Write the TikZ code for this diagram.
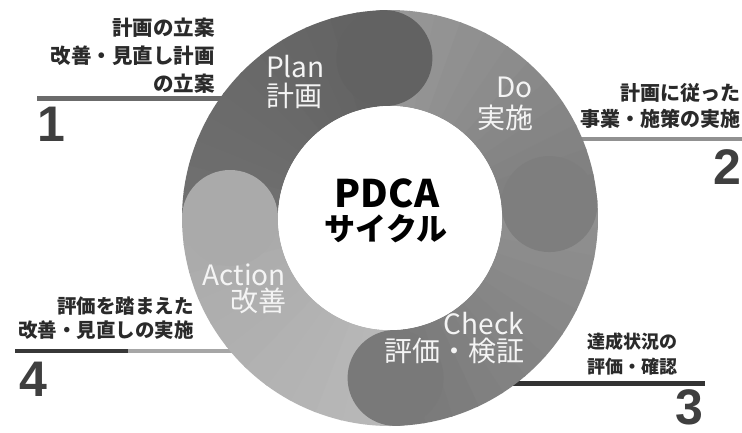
\documentclass[tikz,border=0pt]{standalone}
\usepackage{fontspec}
\setmainfont{Noto Sans CJK JP}
\newfontfamily\numfont{Liberation Sans}
\definecolor{planA}{HTML}{707070}
\definecolor{planB}{HTML}{626262}
\definecolor{doA}{HTML}{979797}
\definecolor{doB}{HTML}{7E7E7E}
\definecolor{chkA}{HTML}{909090}
\definecolor{chkB}{HTML}{797979}
\definecolor{actA}{HTML}{B8B8B8}
\definecolor{actB}{HTML}{AAAAAA}
\definecolor{labtxt}{HTML}{2A2A2A}
\definecolor{ringtxt}{HTML}{F4F4F4}
\newcommand{\ringbody}[4]{%
  \foreach \i in {0,...,11}{%
    \pgfmathsetmacro{\aa}{#1+(#2-#1)*\i/12}%
    \pgfmathsetmacro{\bb}{#1+(#2-#1)*(\i+1)/12+0.5}%
    \pgfmathtruncatemacro{\pp}{100*\i/11}%
    \fill[#4!\pp!#3] (\aa:208) arc[start angle=\aa, end angle=\bb, radius=208]
      -- (\bb:112) arc[start angle=\bb, end angle=\aa, radius=112] -- cycle;
  }%
}
\tikzset{
  lab/.style={inner sep=0pt, text=labtxt, font=\bfseries\fontsize{#1}{#1}\selectfont},
  ringlab/.style={inner sep=0pt, text depth=0pt, text=ringtxt, font=\fontsize{28}{28}\selectfont},
  bignum/.style={inner sep=0pt, text depth=0pt, text=labtxt!90!white, font=\numfont\bfseries\fontsize{50}{50}\selectfont},
  rule/.style={line width=#1}
}
\begin{document}
\begin{tikzpicture}[x=1pt,y=-1pt]
\fill[white] (0,0) rectangle (742,432);
\useasboundingbox (0,0) rectangle (742,432);
% rules
\coordinate (r1a) at (37,98);  \coordinate (r1b) at (270,98);
\coordinate (r2a) at (540,139); \coordinate (r2b) at (742,139);
\coordinate (r3a) at (500,383); \coordinate (r3b) at (705,383);
\coordinate (r4a) at (15,351); \coordinate (r4m) at (128,351); \coordinate (r4b) at (260,351);
\draw[rule=5pt, color=black!58] (r1a) -- (r1b);
\draw[rule=4pt, color=black!43] (r2a) -- (r2b);
\draw[rule=5pt, color=black!80] (r3a) -- (r3b);
\draw[rule=4pt, color=black!35] (r4m) -- (r4b);
\draw[rule=4pt, color=black!78] (r4a) -- (r4m);
% ring
\begin{scope}[shift={(390,218)}]
  \ringbody{180}{268}{planA}{planB}
  \ringbody{268}{355}{doA}{doB}
  \ringbody{355}{448}{chkA}{chkB}
  \ringbody{448}{540}{actA}{actB}
  \fill[planB] (268:160) circle[radius=48];
  \fill[doB] (355:160) circle[radius=48];
  \fill[chkB] (448:160) circle[radius=48];
  \fill[actB] (540:160) circle[radius=48];
  \fill[white] (0,0) circle[radius=112];
\end{scope}
% ring labels
\node[ringlab, anchor=base west] (planE) at (266,77) {Plan};
\node[ringlab, anchor=base west] (planJ) at (266,106) {計画};
\node[ringlab, anchor=base east] (doE) at (533,97) {Do};
\node[ringlab, anchor=base east] (doJ) at (534,128) {実施};
\node[ringlab, anchor=base east] (chkE) at (524,334) {Check};
\node[ringlab, anchor=base east] (chkJ) at (525,361) {評価・検証};
\node[ringlab, anchor=base east] (actE) at (286,285) {Action};
\node[ringlab, anchor=base east] (actJ) at (287,311) {改善};
% centre
\node[inner sep=0pt, font=\bfseries\fontsize{38}{38}\selectfont, anchor=base] (pdca) at (387,207) {PDCA};
\node[inner sep=0pt, font=\bfseries\fontsize{31}{31}\selectfont, anchor=base] (cyc) at (386,240) {サイクル};
% outer labels
\node[lab=20.5, anchor=base east] (t1a) at (215,35.5) {計画の立案};
\node[lab=20.5, anchor=base east] (t1b) at (215,63.5) {改善・見直し計画};
\node[lab=20.5, anchor=base east] (t1c) at (215,91.5) {の立案};
\node[lab=20, anchor=base east] (t2a) at (741,100.5) {計画に従った};
\node[lab=20, anchor=base east] (t2b) at (741,126.5) {事業・施策の実施};
\node[lab=18, anchor=base west] (t3a) at (587,348) {達成状況の};
\node[lab=18, anchor=base west] (t3b) at (587,373) {評価・確認};
\node[lab=19.5, anchor=base east] (t4a) at (194,313.5) {評価を踏まえた};
\node[lab=19.5, anchor=base east] (t4b) at (194,337) {改善・見直しの実施};
% numbers
\node[bignum, anchor=base west] (n1) at (37,141) {1};
\node[bignum, anchor=base east] (n2) at (742,184) {2};
\node[bignum, anchor=base east] (n3) at (704,424) {3};
\node[bignum, anchor=base west] (n4) at (19,396) {4};
\end{tikzpicture}
\end{document}
